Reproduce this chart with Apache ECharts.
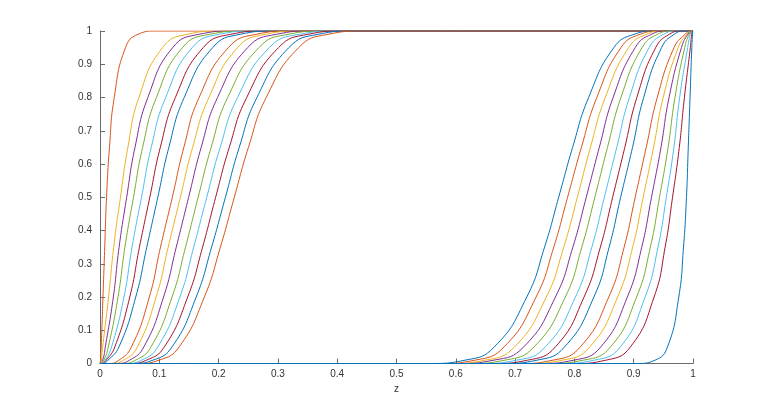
<!DOCTYPE html>
<html><head><meta charset="utf-8">
<script src="https://cdn.jsdelivr.net/npm/echarts@6/dist/echarts.min.js"></script>
<style>html,body{margin:0;padding:0;background:#fff}#c{width:766px;height:409px}</style>
</head><body><div id="c"></div>
<script>
// tick labels
const xTickLabels = ['0','0.1','0.2','0.3','0.4','0.5','0.6','0.7','0.8','0.9','1'];
const yTickLabels = ['0','0.1','0.2','0.3','0.4','0.5','0.6','0.7','0.8','0.9','1'];

const levels = [0, 0, 0.01, 0.05, 0.2, 0.35, 0.5, 0.65, 0.8, 0.95, 0.99, 1, 1];

// left family (rising near z = 0): z positions at the levels above
const L1  = [0, 0.0002, 0.0008, 0.002, 0.005, 0.008, 0.011, 0.016, 0.024, 0.043, 0.064, 0.095, 1];
const L2  = [0, 0.0005, 0.0022, 0.0045, 0.0145, 0.0231, 0.0345, 0.047, 0.0656, 0.1055, 0.1469, 0.2025, 1];
const L3  = [0, 0.001, 0.0045, 0.009, 0.0225, 0.0322, 0.045, 0.059, 0.0807, 0.1225, 0.1668, 0.2257, 1];
const L4  = [0, 0.0015, 0.0065, 0.014, 0.0304, 0.042, 0.0565, 0.0719, 0.0951, 0.139, 0.1849, 0.2453, 1];
const L5  = [0, 0.002, 0.0088, 0.0195, 0.0404, 0.054, 0.070, 0.0864, 0.1107, 0.1555, 0.2012, 0.2603, 1];
const L6  = [0, 0.003, 0.0105, 0.025, 0.0502, 0.0665, 0.084, 0.1017, 0.1271, 0.174, 0.2203, 0.2795, 1];
const L7  = [0, 0.004, 0.0135, 0.032, 0.0603, 0.0789, 0.0975, 0.1161, 0.142, 0.190, 0.2362, 0.2943, 1];
const L8  = [0, 0.0132, 0.0319, 0.053, 0.0832, 0.102, 0.122, 0.1414, 0.1671, 0.2165, 0.2631, 0.3213, 1];
const L9  = [0, 0.0188, 0.040, 0.063, 0.0947, 0.115, 0.1355, 0.1562, 0.1837, 0.232, 0.279, 0.3373, 1];
const L10 = [0, 0.0272, 0.0498, 0.074, 0.1072, 0.1286, 0.1495, 0.1706, 0.1982, 0.249, 0.2972, 0.357, 1];
const L11 = [0, 0.0349, 0.0598, 0.086, 0.1215, 0.1442, 0.1655, 0.1875, 0.2153, 0.268, 0.3172, 0.3778, 1];
const L12 = [0, 0.0437, 0.0701, 0.0975, 0.1347, 0.158, 0.180, 0.2026, 0.232, 0.2855, 0.3359, 0.398, 1];
const L13 = [0, 0.050, 0.0784, 0.1085, 0.1479, 0.173, 0.195, 0.218, 0.2474, 0.301, 0.3506, 0.411, 1];
const L14 = [0, 0.0561, 0.0892, 0.1215, 0.1622, 0.1882, 0.2115, 0.2348, 0.2646, 0.3185, 0.3678, 0.4273, 1];
const L15 = [0, 0.064, 0.0995, 0.1335, 0.176, 0.203, 0.2265, 0.2503, 0.2803, 0.335, 0.3844, 0.444, 1];

// right family (rising near z = 1): z positions at the levels above
const R1  = [0, 0.556, 0.6156, 0.665, 0.7197, 0.7497, 0.7735, 0.797, 0.824, 0.8665, 0.9005, 0.936, 1];
const R2  = [0, 0.5727, 0.6322, 0.6815, 0.7354, 0.7652, 0.7885, 0.8118, 0.8378, 0.8785, 0.9108, 0.9439, 1];
const R3  = [0, 0.589, 0.6494, 0.699, 0.7526, 0.782, 0.805, 0.827, 0.8521, 0.8915, 0.9216, 0.950, 1];
const R4  = [0, 0.602, 0.6641, 0.7145, 0.768, 0.7974, 0.820, 0.842, 0.8653, 0.9025, 0.9299, 0.9563, 1];
const R5  = [0, 0.6222, 0.6828, 0.732, 0.7847, 0.8125, 0.8345, 0.8558, 0.8785, 0.914, 0.9402, 0.9651, 1];
const R6  = [0, 0.643, 0.7028, 0.751, 0.8018, 0.8294, 0.8505, 0.8714, 0.8928, 0.926, 0.9502, 0.9728, 1];
const R7  = [0, 0.6627, 0.721, 0.768, 0.8163, 0.8438, 0.8645, 0.885, 0.9053, 0.937, 0.960, 0.9812, 1];
const R8  = [0, 0.6787, 0.7369, 0.7835, 0.8329, 0.8586, 0.878, 0.898, 0.9168, 0.947, 0.9681, 0.9868, 1];
const R9  = [0, 0.7057, 0.7638, 0.810, 0.858, 0.8839, 0.9025, 0.9211, 0.9397, 0.968, 0.9865, 0.996, 1];
const R10 = [0, 0.7205, 0.7797, 0.826, 0.8729, 0.8983, 0.916, 0.9335, 0.9498, 0.975, 0.9895, 0.997, 1];
const R11 = [0, 0.7397, 0.7988, 0.8445, 0.8893, 0.9136, 0.930, 0.946, 0.9596, 0.9805, 0.9912, 0.998, 1];
const R12 = [0, 0.7547, 0.8151, 0.861, 0.9049, 0.9281, 0.9435, 0.958, 0.9696, 0.986, 0.9935, 0.9985, 1];
const R13 = [0, 0.7743, 0.8332, 0.8775, 0.9193, 0.941, 0.955, 0.9678, 0.9775, 0.991, 0.9955, 0.999, 1];
const R14 = [0, 0.7975, 0.8531, 0.8945, 0.9344, 0.953, 0.9655, 0.9769, 0.9855, 0.9955, 0.9978, 0.9995, 1];
const R15 = [0, 0.905, 0.936, 0.957, 0.976, 0.984, 0.989, 0.992, 0.995, 0.998, 0.9992, 0.9998, 1];

const leftCurves  = [L1, L2, L3, L4, L5, L6, L7, L8, L9, L10, L11, L12, L13, L14, L15];
const rightCurves = [R1, R2, R3, R4, R5, R6, R7, R8, R9, R10, R11, R12, R13, R14, R15];

const palette = ['#0072BD', '#D95319', '#EDB120', '#7E2F8E', '#77AC30', '#4DBEEE', '#A2142F'];

function makeSeries(z, name, color) {
  return {
    type: 'line', name: name,
    data: z.map(function (v, j) { return [v, levels[j]]; }),
    showSymbol: false, smooth: 0.5, silent: true,
    lineStyle: { width: 1, color: color }
  };
}
const series = [];
leftCurves.forEach(function (z, i) { series.push(makeSeries(z, 'L' + (i + 1), palette[(i + 1) % 7])); });
rightCurves.forEach(function (z, i) { series.push(makeSeries(z, 'R' + (i + 1), palette[i % 7])); });

const font = 'Liberation Sans, Arial, Helvetica, sans-serif';
const axisCommon = {
  type: 'value', min: 0, max: 1, interval: 0.1,
  axisLine: { show: true, lineStyle: { color: '#6b6b6b', width: 1 } },
  axisTick: { show: true, inside: true, length: 5, lineStyle: { color: '#6b6b6b' } },
  splitLine: { show: false }
};

const chart = echarts.init(document.getElementById('c'), null, { renderer: 'canvas' });
chart.setOption({
  animation: false,
  backgroundColor: '#ffffff',
  grid: { left: 100, right: 73, top: 31, bottom: 45.5, containLabel: false },
  xAxis: Object.assign({}, axisCommon, {
    name: 'z', nameLocation: 'middle', nameGap: 16,
    nameTextStyle: { color: '#333', fontSize: 10, fontFamily: font, verticalAlign: 'top' },
    axisLabel: { color: '#333', fontSize: 10, margin: 6, fontFamily: font,
      formatter: function (v) { return xTickLabels[Math.round(v * 10)]; } }
  }),
  yAxis: Object.assign({}, axisCommon, {
    axisLabel: { color: '#333', fontSize: 10, margin: 8, fontFamily: font,
      formatter: function (v) { return yTickLabels[Math.round(v * 10)]; } }
  }),
  series: series
});
</script></body></html>
